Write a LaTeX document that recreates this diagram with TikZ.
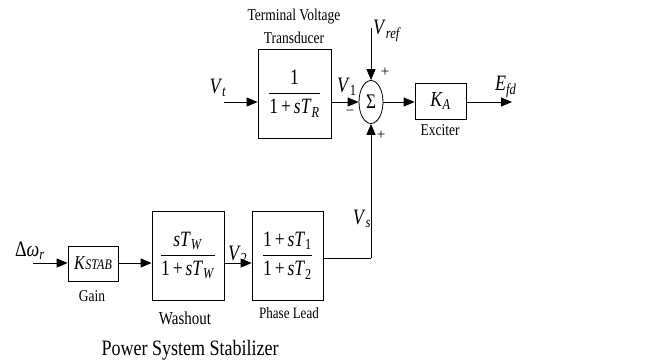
\documentclass[tikz,border=0pt]{standalone}
\usepackage{fontspec}
\usepackage{graphicx}
\setmainfont{Liberation Serif}
\usetikzlibrary{arrows.meta,shapes.geometric}
\newcommand{\vi}[1]{\textit{#1}}
\newcommand{\sbi}[1]{\textsubscript{\textit{#1}}}
\newcommand{\st}[1]{\scalebox{1}[1.22]{#1}}
\newcommand{\fr}[2]{\scalebox{1}[1.25]{$\displaystyle\frac{\mbox{#1}}{\mbox{#2}}$}}
\begin{document}
\begin{tikzpicture}[x=1pt,y=-1pt,
  blk/.style={draw,line width=0.8pt,inner sep=0pt,font=\fontsize{17.5}{20}\selectfont},
  sig/.style={line width=0.8pt,-{Triangle[length=11pt,width=9pt]}},
  wire/.style={line width=0.8pt},
  lbl/.style={font=\fontsize{13.5}{15}\selectfont,inner sep=0pt},
  var/.style={font=\fontsize{18}{20}\selectfont,inner sep=0pt}]
\useasboundingbox (0,0) rectangle (647,362);
% blocks
\node[blk,minimum width=73pt,minimum height=89pt] (tr) at (294.5,93.5) {\fr{1}{1\,+\,\vi{sT}\sbi{R}}};
\node[draw,ellipse,line width=0.8pt,minimum width=24pt,minimum height=43pt,inner sep=0pt,font=\fontsize{17}{18}\selectfont] (sum) at (371,102) {\st{Σ}};
\node[blk,minimum width=51pt,minimum height=36pt] (ka) at (440.5,101) {\st{\vi{K}\sbi{A}}};
\node[blk,minimum width=50pt,minimum height=35pt,font=\fontsize{16}{18}\selectfont] (gain) at (93,263.5) {\st{\vi{K}{\fontsize{12}{14}\selectfont\vi{STAB}}}};
\node[blk,minimum width=72pt,minimum height=89pt] (wash) at (188,255.5) {\fr{\vi{sT}\sbi{W}}{1\,+\,\vi{sT}\sbi{W}}};
\node[blk,minimum width=71pt,minimum height=89pt] (lead) at (287.5,255.5) {\fr{1\,+\,\vi{sT}\textsubscript{1}}{1\,+\,\vi{sT}\textsubscript{2}}};
% endpoints
\coordinate (vt) at (224,102);
\coordinate (vref) at (371,28);
\coordinate (efd) at (512,102);
\coordinate (dw) at (33,263);
\coordinate (corner) at (371,258);
% connectors
\draw[sig] (vt) -- (tr.west |- vt);
\draw[sig] (tr.east |- sum) -- (sum.west);
\draw[sig] (vref) -- (sum.north);
\draw[sig] (sum.east) -- (ka.west |- sum);
\draw[sig] (ka.east |- sum) -- (efd);
\draw[sig] (dw) -- (gain.west |- dw);
\draw[sig] (gain.east |- dw) -- (wash.west |- dw);
\draw[sig] (wash.east |- dw) -- (lead.west |- dw);
\draw[wire] (lead.east |- corner) -- (corner);
\draw[sig] (corner) -- (sum.south);
% labels
\node[lbl] (t1) at (294,17) {\st{Terminal Voltage}};
\node[lbl] (t2) at (294,38) {\st{Transducer}};
\node[var] (lvt) at (218,88) {\st{\vi{V}\sbi{t}}};
\node[var] (lv1) at (347,87) {\st{\vi{V}\textsubscript{1}}};
\node[var,anchor=west] (lvref) at (373,31) {\st{\vi{V}\sbi{ref}}};
\node[font=\fontsize{15}{15}\selectfont,inner sep=0pt] (p1) at (385,72) {+};
\node[font=\fontsize{15}{15}\selectfont,inner sep=0pt] (m1) at (350,113) {−};
\node[font=\fontsize{15}{15}\selectfont,inner sep=0pt] (p2) at (381,135) {+};
\node[var,anchor=west] (lefd) at (495,87) {\st{\vi{E}\sbi{fd}}};
\node[lbl] (lexc) at (440,130) {\st{Exciter}};
\node[var] (ldw) at (30,251) {\st{Δ\vi{ω}\sbi{r}}};
\node[lbl] (lgain) at (92,296) {\st{Gain}};
\node[var] (lv2) at (238,255) {\st{\vi{V}\textsubscript{2}}};
\node[lbl,font=\fontsize{15}{17}\selectfont] (lwash) at (185,318) {\st{Washout}};
\node[lbl,font=\fontsize{13}{15}\selectfont] (llead) at (289,313) {\st{Phase Lead}};
\node[var] (lvs) at (362,219) {\st{\vi{V}\sbi{s}}};
\node[font=\fontsize{18}{20}\selectfont,inner sep=0pt] (pss) at (190,350) {\st{Power System Stabilizer}};
\end{tikzpicture}
\end{document}
